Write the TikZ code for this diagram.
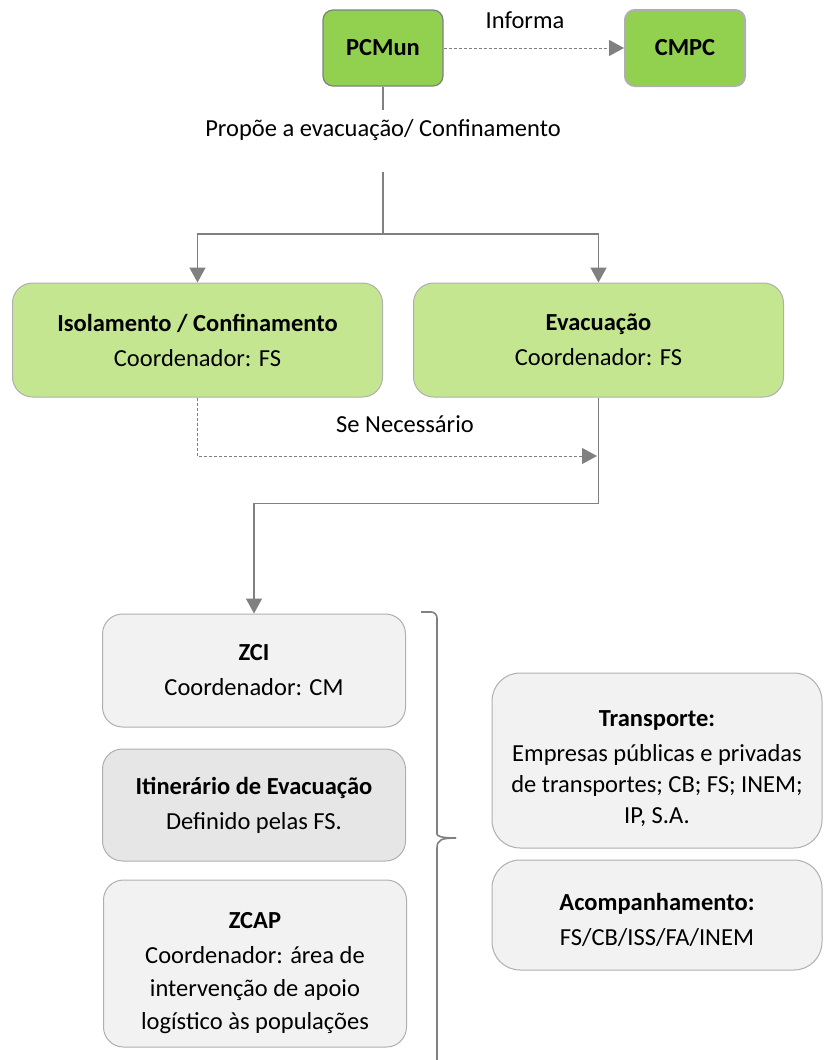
\documentclass[tikz,border=0pt]{standalone}
\usepackage{fontspec}
\setmainfont{Carlito}
\usepackage{tikz}
\usepackage{xcolor}
\usetikzlibrary{arrows.meta, positioning, calc}
\definecolor{leafgreen}{RGB}{146, 208, 80}
\definecolor{palegreen}{RGB}{196, 230, 145}
\definecolor{lightgray}{RGB}{242, 242, 242}
\definecolor{midgray}{RGB}{230, 230, 230}
\definecolor{edgegray}{RGB}{175, 175, 175}
\definecolor{linegray}{RGB}{128, 128, 128}
\newcommand{\lift}[1]{\rule{0pt}{#1}}

\begin{document}
\begin{tikzpicture}[x=1pt, y=-1pt,
  every node/.style={font=\fontsize{24.5}{33}\selectfont, align=center},
  topbox/.style={rectangle, draw=linegray, line width=1.2pt, fill=leafgreen,
    rounded corners=10pt, minimum width=120pt, minimum height=76pt, font=\fontsize{24.5}{33}\selectfont\bfseries},
  planbox/.style={rectangle, draw=edgegray, line width=1pt, fill=palegreen,
    rounded corners=20pt, minimum width=370pt, minimum height=114pt},
  zonebox/.style={rectangle, draw=edgegray, line width=1pt, fill=lightgray,
    rounded corners=20pt, minimum width=303pt},
  sidebox/.style={rectangle, draw=edgegray, line width=1pt, fill=lightgray,
    rounded corners=28pt, minimum width=330pt},
  conn/.style={draw=linegray, line width=1.6pt},
  tip/.style={-{Triangle[length=15pt, width=16pt]}},
  dashconn/.style={draw=linegray, line width=1pt, dash pattern=on 3pt off 2pt}]

\useasboundingbox (0,0) rectangle (823,1060);

% Top: command posts
\node[topbox] (pcmun) at (383,48) {PCMun};
\node[topbox, draw=edgegray, line width=2pt] (cmpc) at (685,48) {CMPC};
\draw[dashconn, tip] (pcmun) -- (cmpc);
\node (informa) at (525,20) {Informa};

% Proposal
\coordinate (gapA) at (383,110);
\coordinate (gapB) at (383,172);
\coordinate (split) at (383,234);
\draw[conn] (pcmun) -- (gapA);
\node (propoe) at (383,130) {Propõe a evacuação/ Confinamento};

% Isolation / evacuation
\node[planbox] (iso) at (197.5,340) {\textbf{Isolamento / Confinamento}\\[2pt]Coordenador: FS};
\node[planbox] (evac) at (598.5,340) {\textbf{Evacuação}\\[2pt]Coordenador: FS};
\draw[conn] (gapB) -- (split);
\draw[conn, tip] (split) -| (iso);
\draw[conn, tip] (split) -| (evac);

\coordinate (merge) at (597,456);
\draw[dashconn, tip] (iso.south) |- (merge);
\node (senec) at (405,424) {Se Necessário};

% Zones
\node[zonebox, minimum height=113pt] (zci) at (254,670.5) {\textbf{ZCI}\\[2pt]Coordenador: CM};
\node[zonebox, fill=midgray, minimum height=112pt] (itin) at (254,805) {\textbf{Itinerário de Evacuação}\\[2pt]Definido pelas FS.};
\node[zonebox, minimum height=167pt] (zcap) at (255,963.5)
  {\lift{35pt}\textbf{ZCAP}\\[2pt]Coordenador: área de\\intervenção de apoio\\logístico às populações};
\draw[conn, tip] (evac.south) -- ++(0,106) -| (zci.north);

% Bracket
\draw[conn, rounded corners=6pt] (421,612) -- (437,612) -- (437,828)
  .. controls (437,836) and (441,838) .. (456,838);
\draw[conn] (456,838) .. controls (441,838) and (437,840) .. (437,848) -- (437,1062);

% Support
\node[sidebox, minimum height=175pt, font=\fontsize{24.5}{31}\selectfont] (transp) at (657,760.5)
  {\lift{33pt}\textbf{Transporte:}\\[4pt]Empresas públicas e privadas\\de transportes; CB; FS; INEM;\\IP, S.A.};
\node[sidebox, minimum height=110pt] (acomp) at (657,915)
  {\lift{27pt}\textbf{Acompanhamento:}\\[2pt]FS/CB/ISS/FA/INEM};

\end{tikzpicture}
\end{document}
